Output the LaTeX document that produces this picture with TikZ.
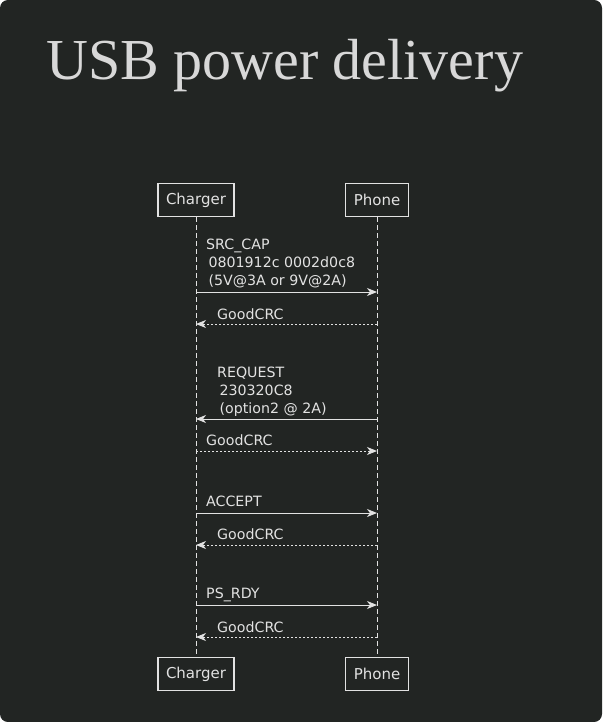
\documentclass[tikz,border=0pt]{standalone}
\usepackage{fontspec}
\setmainfont{DejaVu Sans}
\newfontfamily\titlefont{Liberation Serif}
\usetikzlibrary{arrows.meta}
\definecolor{bg}{HTML}{222523}
\definecolor{fg}{HTML}{E2E2E2}
\begin{document}
\begin{tikzpicture}[x=1pt,y=-1pt,
  box/.style={draw=fg,line width=1.3pt,fill=bg,text=fg,font=\fontsize{15}{17}\selectfont,minimum height=33pt,inner xsep=8pt},
  life/.style={draw=fg,dashed,dash pattern=on 5pt off 3pt,line width=0.8pt},
  msg/.style={draw=fg,line width=0.9pt,-{Stealth[length=10pt,width=8pt,inset=3pt]}},
  rep/.style={msg,dash pattern=on 2pt off 2pt},
  lbl/.style={text=fg,anchor=west,font=\fontsize{14.2}{18}\selectfont,align=left,inner sep=0pt}]
\useasboundingbox (0,0) rectangle (602,722);
\fill[bg,rounded corners=8pt] (0,0) rectangle (602,722);
\node[anchor=base west,text=fg!90!gray,inner sep=0pt,font=\titlefont\fontsize{58}{62}\selectfont] (title) at (46,80) {USB power delivery};
\node[box] (c1) at (196,200) {Charger};
\node[box] (p1) at (377,200) {Phone};
\node[box] (c2) at (196,674) {Charger};
\node[box] (p2) at (377,674) {Phone};
\draw[life] (c1) -- (c2);
\draw[life] (p1) -- (p2);
\foreach \n/\y in {a/292,b/324,c/419,d/451,e/513,f/545,g/605,h/637}{
  \coordinate (c\n) at (c1 |- 0,\y);
  \coordinate (p\n) at (p1 |- 0,\y);}
\draw[msg] (ca) -- (pa);
\draw[rep] (pb) -- (cb);
\draw[msg] (pc) -- (cc);
\draw[rep] (cd) -- (pd);
\draw[msg] (ce) -- (pe);
\draw[rep] (pf) -- (cf);
\draw[msg] (cg) -- (pg);
\draw[rep] (ph) -- (ch);
\node[lbl,anchor=north west] (la) at (206,239) {SRC\_CAP\\ \,0801912c 0002d0c8\\ \,(5V@3A or 9V@2A)};
\node[lbl] (lb) at (217,314) {GoodCRC};
\node[lbl,anchor=north west] (lc) at (217,367) {REQUEST\\ \,230320C8\\ \,(option2 @ 2A)};
\node[lbl] (ld) at (206,440) {GoodCRC};
\node[lbl] (le) at (206,501) {ACCEPT};
\node[lbl] (lf) at (217,534) {GoodCRC};
\node[lbl] (lg) at (206,595) {PS\_RDY};
\node[lbl] (lh) at (217,627) {GoodCRC};
\end{tikzpicture}
\end{document}
